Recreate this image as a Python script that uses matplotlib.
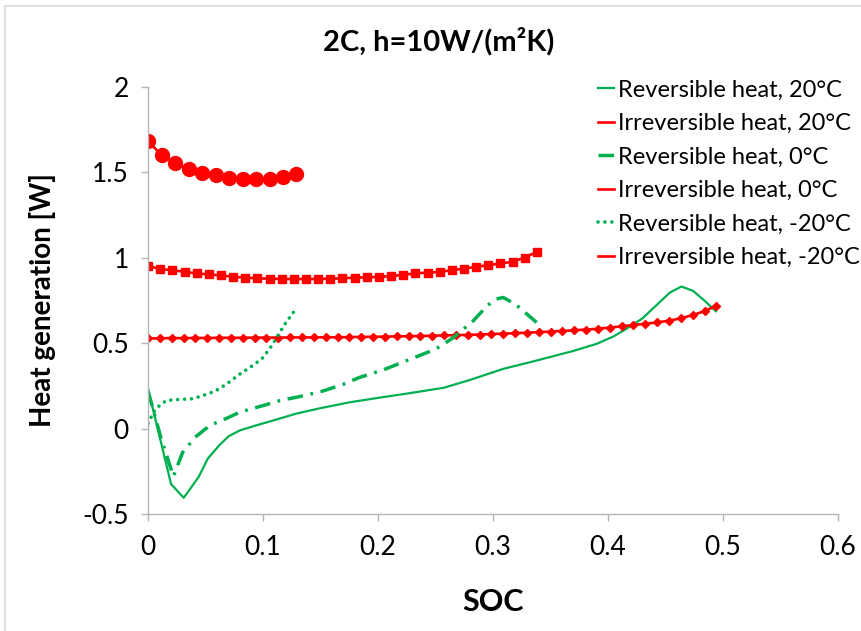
"""Heat generation vs SOC at 2C, h=10 W/(m2K)."""

import matplotlib
matplotlib.use("Agg")
import matplotlib.pyplot as plt
from matplotlib.lines import Line2D
from matplotlib.ticker import FormatStrFormatter

plt.rcParams["font.family"] = ["Lato", "DejaVu Sans"]

GREEN = "#00B050"
RED = "#FF0000"
GRID_GRAY = "#B4B4B4"

# ---------------------------------------------------------------------------
# Data
# ---------------------------------------------------------------------------

soc_rev20 = [0, 0.010, 0.020, 0.031, 0.044, 0.052, 0.062, 0.070, 0.080, 0.094,
             0.110, 0.129, 0.150, 0.176, 0.200, 0.225, 0.257, 0.280, 0.309, 0.330,
             0.349, 0.370, 0.390, 0.405, 0.416, 0.430, 0.445, 0.454, 0.464, 0.474,
             0.484, 0.494]
h_rev20 = [0.233, -0.046, -0.325, -0.405, -0.283, -0.175, -0.097, -0.045, -0.010, 0.019,
           0.050, 0.088, 0.120, 0.155, 0.180, 0.205, 0.239, 0.285, 0.350, 0.385,
           0.418, 0.455, 0.496, 0.540, 0.584, 0.645, 0.740, 0.797, 0.832, 0.807,
           0.750, 0.687]

soc_irr20 = [0, 0.0103, 0.0206, 0.0309, 0.0412, 0.0515, 0.0618, 0.0721, 0.0824, 0.0927,
             0.1030, 0.1133, 0.1236, 0.1339, 0.1442, 0.1545, 0.1648, 0.1751, 0.1854, 0.1957,
             0.2060, 0.2163, 0.2266, 0.2369, 0.2472, 0.2575, 0.2678, 0.2781, 0.2884, 0.2987,
             0.3090, 0.3193, 0.3296, 0.3399, 0.3502, 0.3605, 0.3708, 0.3811, 0.3914, 0.4017,
             0.4120, 0.4223, 0.4326, 0.4429, 0.4532, 0.4635, 0.4738, 0.4841, 0.4944]
h_irr20 = [0.528, 0.529, 0.530, 0.530, 0.531, 0.531, 0.532, 0.532, 0.532, 0.533,
           0.533, 0.533, 0.534, 0.534, 0.534, 0.535, 0.535, 0.536, 0.537, 0.538,
           0.539, 0.540, 0.541, 0.543, 0.544, 0.546, 0.547, 0.549, 0.551, 0.554,
           0.556, 0.559, 0.562, 0.565, 0.568, 0.572, 0.576, 0.580, 0.585, 0.592,
           0.599, 0.607, 0.614, 0.622, 0.632, 0.646, 0.665, 0.688, 0.720]

soc_rev0 = [0, 0.011, 0.022, 0.030, 0.041, 0.054, 0.065, 0.080, 0.100, 0.115,
            0.130, 0.152, 0.170, 0.184, 0.205, 0.222, 0.235, 0.250, 0.265, 0.283,
            0.295, 0.303, 0.309, 0.320, 0.338]
h_rev0 = [0.22, -0.05, -0.28, -0.14, -0.05, 0.02, 0.05, 0.097, 0.135, 0.165,
          0.185, 0.22, 0.26, 0.30, 0.345, 0.39, 0.425, 0.465, 0.53, 0.632,
          0.72, 0.759, 0.768, 0.726, 0.622]

soc_irr0 = [0, 0.0106, 0.0211, 0.0317, 0.0423, 0.0529, 0.0634, 0.0740, 0.0846, 0.0951,
            0.1057, 0.1163, 0.1268, 0.1374, 0.1480, 0.1586, 0.1691, 0.1797, 0.1903, 0.2008,
            0.2114, 0.2220, 0.2325, 0.2431, 0.2537, 0.2643, 0.2748, 0.2854, 0.2960, 0.3065,
            0.3171, 0.3277, 0.3382]
h_irr0 = [0.953, 0.934, 0.928, 0.918, 0.909, 0.903, 0.897, 0.889, 0.884, 0.880,
          0.878, 0.876, 0.876, 0.876, 0.876, 0.878, 0.880, 0.884, 0.886, 0.889,
          0.893, 0.901, 0.909, 0.913, 0.918, 0.928, 0.936, 0.948, 0.957, 0.967,
          0.977, 1.002, 1.035]

soc_rev_m20 = [0, 0.005, 0.010, 0.016, 0.025, 0.039, 0.054, 0.062, 0.070, 0.080,
               0.090, 0.099, 0.106, 0.112, 0.120, 0.128]
h_rev_m20 = [0.03, 0.10, 0.136, 0.165, 0.170, 0.175, 0.208, 0.233, 0.27, 0.32,
             0.365, 0.409, 0.47, 0.535, 0.622, 0.695]

soc_irr_m20 = [0, 0.0117, 0.0235, 0.0352, 0.0470, 0.0587, 0.0704, 0.0822, 0.0939,
               0.1057, 0.1174, 0.1291]
h_irr_m20 = [1.683, 1.601, 1.556, 1.518, 1.494, 1.483, 1.465, 1.459, 1.459,
             1.463, 1.475, 1.492]

labels = ["Reversible heat, 20°C", "Irreversible heat, 20°C",
          "Reversible heat, 0°C", "Irreversible heat, 0°C",
          "Reversible heat, -20°C", "Irreversible heat, -20°C"]

# ---------------------------------------------------------------------------
# Figure
# ---------------------------------------------------------------------------

fig = plt.figure(figsize=(8.61, 6.31), dpi=100)
ax = fig.add_axes([0.172, 0.1854, 0.801, 0.6766])

dashdot = (0, (4.5, 2.2, 0.8, 2.2))
dotted = (0, (0.01, 1.9))

ax.plot(soc_rev20, h_rev20, color=GREEN, lw=1.6)
ax.plot(soc_irr20, h_irr20, color=RED, lw=1.9, marker="D", ms=4.5)
ax.plot(soc_rev0, h_rev0, color=GREEN, lw=2.5, ls=dashdot)
ax.plot(soc_irr0, h_irr0, color=RED, lw=1.9, marker="s", ms=6)
ax.plot(soc_rev_m20, h_rev_m20, color=GREEN, lw=2.6, ls=dotted,
        dash_capstyle="round")
ax.plot(soc_irr_m20, h_irr_m20, color=RED, lw=1.9, marker="o", ms=10)

ax.set_xlim(0, 0.6)
ax.set_ylim(-0.5, 2)
ax.set_xticks([0, 0.1, 0.2, 0.3, 0.4, 0.5, 0.6])
ax.set_yticks([-0.5, 0, 0.5, 1, 1.5, 2])
ax.xaxis.set_major_formatter(FormatStrFormatter("%g"))
ax.yaxis.set_major_formatter(FormatStrFormatter("%g"))
for side in ("top", "right"):
    ax.spines[side].set_visible(False)
for side in ("left", "bottom"):
    ax.spines[side].set_color(GRID_GRAY)
    ax.spines[side].set_linewidth(1.0)
ax.tick_params(direction="out", length=5, width=1.0, color=GRID_GRAY,
               labelsize=19)
ax.tick_params(axis="x", pad=10)
ax.tick_params(axis="y", pad=9)

ax.set_xlabel("SOC", fontsize=22, fontweight="bold", labelpad=20)
ax.set_ylabel("Heat generation [W]", fontsize=20, fontweight="bold", labelpad=19)
fig.text(0.509, 0.935, "2C, h=10W/(m²K)", ha="center", va="center",
         fontsize=21, fontweight="bold")

handles = [
    Line2D([], [], color=GREEN, lw=1.6),
    Line2D([], [], color=RED, lw=1.9),
    Line2D([], [], color=GREEN, lw=2.5, ls=dashdot),
    Line2D([], [], color=RED, lw=1.9),
    Line2D([], [], color=GREEN, lw=2.6, ls=dotted, dash_capstyle="round"),
    Line2D([], [], color=RED, lw=1.9),
]
fig.legend(handles, labels, loc="upper left", bbox_to_anchor=(0.694, 0.874),
           frameon=False, fontsize=17, handlelength=0.7, handletextpad=0.15,
           labelspacing=0.53, borderpad=0, borderaxespad=0)

# chart-area border
fig.add_artist(Line2D([5 / 861, 5 / 861], [0, 1 - 6 / 631],
                      transform=fig.transFigure, color="#D9D9D9", lw=1.2))
fig.add_artist(Line2D([5 / 861, 1], [1 - 6 / 631, 1 - 6 / 631],
                      transform=fig.transFigure, color="#D9D9D9", lw=1.2))

fig.savefig("out.png", dpi=100)
